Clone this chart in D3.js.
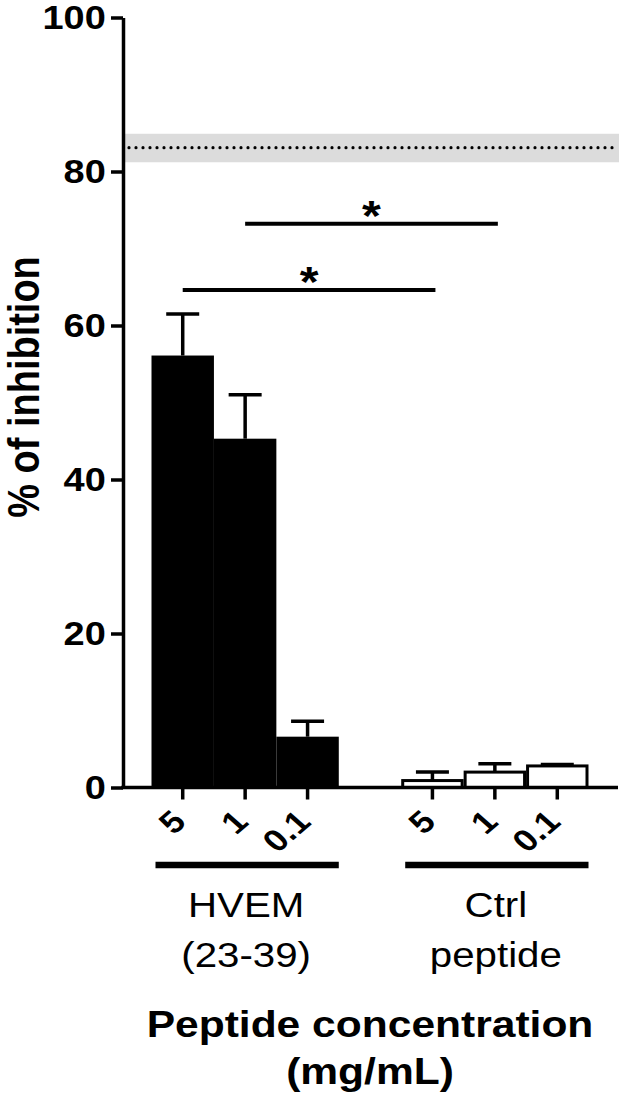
<!DOCTYPE html>
<html>
<head>
<meta charset="utf-8">
<script src="https://cdn.jsdelivr.net/npm/d3@7"></script>
<style>
  body { margin: 0; background: #fff; }
  text { font-family: Arial, "Liberation Sans", Helvetica, sans-serif; fill: #000; }
</style>
</head>
<body>
<div id="main"></div>
<script>
var width = 623;
var height = 1100;

// bar slots, "gap" is the empty slot between the two groups
var slots = ["h5", "h1", "h01", "gap", "c5", "c1", "c01"];
var tickLabels = {"h5": "5", "h1": "1", "h01": "0.1", "c5": "5", "c1": "1", "c01": "0.1"};

var hvemKeys = ["h5", "h1", "h01"];
var hvemMean = [56.1, 45.3, 6.6];
var hvemSem = [5.4, 5.7, 2.0];

var ctrlKeys = ["c5", "c1", "c01"];
var ctrlMean = [0.9, 2.0, 2.8];
var ctrlSem = [1.1, 1.1, 0.2];

var groupNames = [["HVEM", "(23-39)"], ["Ctrl", "peptide"]];

// positive control band (mean and range)
var refMean = 83.1;
var refRange = [81.2, 84.9];

// significance brackets: from bar, to bar, height
var sigFrom = ["h5", "h1"];
var sigTo = ["c5", "c1"];
var sigY = [64.6, 73.2];

var yTicks = [0, 20, 40, 60, 80, 100];

var SX = 1.15; // the figure is a bit stretched sideways

var AXIS_X = 123;
var AXIS_END = 618;

var svg = d3.select("#main")
  .append("svg")
  .attr("width", width)
  .attr("height", height);

var y = d3.scaleLinear().domain([0, 100]).range([787.5, 17.5]);
var x = d3.scaleBand().domain(slots).range([151.5, 588.5]).padding(0);
var bw = x.bandwidth();

// grey band + dotted line
svg.append("rect")
  .attr("x", AXIS_X)
  .attr("y", y(refRange[1]))
  .attr("width", 619 - AXIS_X)
  .attr("height", y(refRange[0]) - y(refRange[1]))
  .attr("fill", "#dcdcdc");

svg.append("line")
  .attr("x1", 129).attr("x2", 617)
  .attr("y1", y(refMean)).attr("y2", y(refMean))
  .attr("stroke", "#000")
  .attr("stroke-width", 3.2)
  .attr("stroke-linecap", "round")
  .attr("stroke-dasharray", "0 7");

// bars
function bars(keys, means, sems, fill) {
  var data = keys.map(function(k, i){ return {key: k, v: means[i], e: sems[i]}; });
  var g = svg.append("g");
  g.selectAll("line.err")
    .data(data).enter()
    .append("line")
    .attr("class", "err")
    .attr("x1", function(d){ return x(d.key) + bw / 2; })
    .attr("x2", function(d){ return x(d.key) + bw / 2; })
    .attr("y1", function(d){ return y(d.v); })
    .attr("y2", function(d){ return y(d.v + d.e); })
    .attr("stroke", "#000").attr("stroke-width", 3.5);
  g.selectAll("line.cap")
    .data(data).enter()
    .append("line")
    .attr("class", "cap")
    .attr("x1", function(d){ return x(d.key) + bw / 2 - 16.5; })
    .attr("x2", function(d){ return x(d.key) + bw / 2 + 16.5; })
    .attr("y1", function(d){ return y(d.v + d.e); })
    .attr("y2", function(d){ return y(d.v + d.e); })
    .attr("stroke", "#000").attr("stroke-width", 3.5);
  g.selectAll("rect")
    .data(data).enter()
    .append("rect")
    .attr("x", function(d){ return x(d.key) + (fill == "#000" ? 0 : 1.5); })
    .attr("width", bw - (fill == "#000" ? 0 : 3))
    .attr("y", function(d){ return y(d.v); })
    .attr("height", function(d){ return y(0) - y(d.v); })
    .attr("fill", fill)
    .attr("stroke", "#000")
    .attr("stroke-width", fill == "#000" ? 0 : 3);
}
bars(hvemKeys, hvemMean, hvemSem, "#000");
bars(ctrlKeys, ctrlMean, ctrlSem, "#fff");

// y axis
var yAxis = svg.append("g")
  .attr("transform", "translate(" + AXIS_X + ",0)")
  .call(d3.axisLeft(y).tickValues(yTicks).tickSize(12).tickSizeOuter(0).tickPadding(3));
yAxis.attr("font-family", null);
yAxis.select(".domain").attr("stroke-width", 3.5);
yAxis.selectAll(".tick line").attr("stroke-width", 3.5);
yAxis.selectAll(".tick text")
  .attr("font-size", 33)
  .attr("font-weight", "bold")
  .attr("transform", "scale(" + SX + ",1)");

// x axis
svg.append("line")
  .attr("x1", AXIS_X - 1.75).attr("x2", AXIS_END)
  .attr("y1", y(0)).attr("y2", y(0))
  .attr("stroke", "#000").attr("stroke-width", 3.5);

var xAxis = svg.append("g")
  .attr("transform", "translate(0," + y(0) + ")")
  .call(d3.axisBottom(x).tickValues(hvemKeys.concat(ctrlKeys)).tickSize(12)
    .tickFormat(function(d){ return tickLabels[d]; }));
xAxis.attr("font-family", null);
xAxis.select(".domain").remove();
xAxis.selectAll(".tick line").attr("stroke-width", 3.5);
xAxis.selectAll(".tick text")
  .attr("x", 0).attr("y", 0).attr("dy", 0)
  .attr("font-size", 31)
  .attr("font-weight", "bold")
  .attr("text-anchor", "end")
  .attr("transform", "translate(5,36) scale(" + SX + ",1) rotate(-45)");

// group underlines and names
var groups = [hvemKeys, ctrlKeys];
groups.forEach(function(keys, gi){
  var x0 = x(keys[0]) + 4;
  var x1 = x(keys[keys.length - 1]) + bw;
  var cx = x(keys[1]) + bw / 2;
  svg.append("line")
    .attr("x1", x0).attr("x2", x1)
    .attr("y1", 865).attr("y2", 865)
    .attr("stroke", "#000").attr("stroke-width", 6.5);
  groupNames[gi].forEach(function(t, li){
    svg.append("text")
      .attr("transform", "translate(" + (cx + 1) + "," + (917 + li * 50) + ") scale(" + SX + ",1)")
      .attr("text-anchor", "middle")
      .attr("font-size", 35)
      .text(t);
  });
});

// significance
sigFrom.forEach(function(f, i){
  var xa = x(f) + bw / 2;
  var xb = x(sigTo[i]) + bw / 2 + 3;
  svg.append("line")
    .attr("x1", xa).attr("x2", xb)
    .attr("y1", y(sigY[i])).attr("y2", y(sigY[i]))
    .attr("stroke", "#000").attr("stroke-width", 4);
  svg.append("text")
    .attr("transform", "translate(" + ((xa + xb) / 2) + "," + (y(sigY[i]) + 6) + ") scale(" + SX + ",1)")
    .attr("text-anchor", "middle")
    .attr("font-size", 42)
    .attr("font-weight", "bold")
    .text("*");
});

// axis titles
svg.append("text")
  .attr("transform", "translate(39,387) scale(" + SX + ",1) rotate(-90)")
  .attr("text-anchor", "middle")
  .attr("font-size", 38)
  .attr("font-weight", "bold")
  .text("% of inhibition");

var xTitle = ["Peptide concentration", "(mg/mL)"];
xTitle.forEach(function(t, i){
  svg.append("text")
    .attr("transform", "translate(370," + (1037 + i * 47) + ") scale(" + SX + ",1)")
    .attr("text-anchor", "middle")
    .attr("font-size", 37)
    .attr("font-weight", "bold")
    .text(t);
});
</script>
</body>
</html>
